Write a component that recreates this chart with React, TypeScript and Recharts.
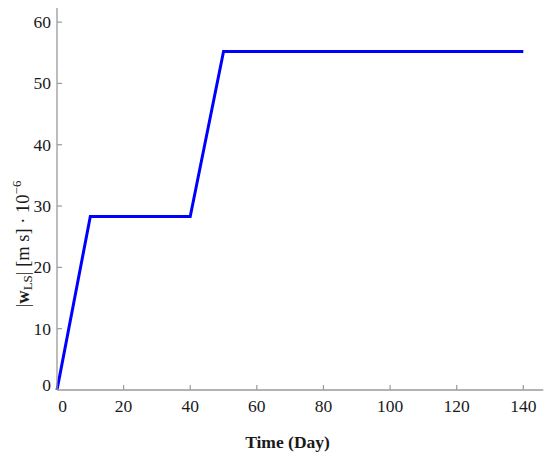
import { LineChart, Line, XAxis, YAxis } from "recharts";

// piecewise linear growth of |w_LS| over time
const days = [0, 10, 40, 50, 140];
const wls = [0, 28.3, 28.3, 55.2, 55.2];
const xTicks = [0, 20, 40, 60, 80, 100, 120, 140];
const yTicks = [0, 10, 20, 30, 40, 50, 60];

const data = days.map((d, i) => ({ day: d, w: wls[i] }));

const FONT = '"Liberation Serif", "DejaVu Serif", serif';
const AXIS = "#9a9a9a";
const TEXT = "#1a1a1a";
const tickText = { fontFamily: FONT, fontSize: 17.5, fill: TEXT };

function XTick(props: any) {
  const { x, y, payload } = props;
  const isZero = payload.value === 0;
  return (
    <g>
      {!isZero && <line x1={x} y1={y} x2={x} y2={y - 5} stroke={AXIS} strokeWidth={1.2} />}
      <text x={isZero ? x + 5.5 : x} y={y + 16} textAnchor="middle" dominantBaseline="central" style={tickText}>
        {payload.value}
      </text>
    </g>
  );
}

function YTick(props: any) {
  const { x, y, payload } = props;
  const isZero = payload.value === 0;
  return (
    <g>
      {!isZero && <line x1={x} y1={y} x2={x + 5} y2={y} stroke={AXIS} strokeWidth={1.2} />}
      <text x={x - 6} y={isZero ? y - 5 : y} textAnchor="end" dominantBaseline="central" style={tickText}>
        {payload.value}
      </text>
    </g>
  );
}

export default function App() {
  return (
    <div style={{ position: "absolute", left: 0, top: 0, background: "#fff" }}>
      <LineChart
        width={550}
        height={457}
        data={data}
        margin={{ top: 8, right: 6.7, bottom: 66, left: 56 }}
      >
        <XAxis
          dataKey="day"
          type="number"
          domain={[0, 146]}
          ticks={xTicks}
          height={1}
          tickSize={0}
          tickMargin={0}
          tickLine={false}
          axisLine={{ stroke: AXIS, strokeWidth: 1.3 }}
          tick={<XTick />}
          interval={0}
        />
        <YAxis
          type="number"
          domain={[0, 62.3]}
          ticks={yTicks}
          width={1}
          tickSize={0}
          tickMargin={0}
          tickLine={false}
          axisLine={{ stroke: AXIS, strokeWidth: 1.3 }}
          tick={<YTick />}
          interval={0}
          allowDataOverflow
        />
        <Line
          type="linear"
          dataKey="w"
          stroke="#0000ff"
          strokeWidth={3}
          dot={false}
          isAnimationActive={false}
        />
        <text
          x={287.5}
          y={448}
          textAnchor="middle"
          style={{ fontFamily: FONT, fontSize: 17.5, fontWeight: "bold", fill: TEXT }}
        >
          Time (Day)
        </text>
        <text
          x={29}
          y={244}
          transform="rotate(-90 29 244)"
          textAnchor="middle"
          style={{ fontFamily: FONT, fontSize: 18.5, fill: TEXT }}
        >
          |<tspan fontWeight="bold">w</tspan>
          <tspan fontSize={13} dy={3}>LS</tspan>
          <tspan dy={-3}>| [m s] · 10</tspan>
          <tspan fontSize={13} dy={-8}>−6</tspan>
        </text>
      </LineChart>
    </div>
  );
}
